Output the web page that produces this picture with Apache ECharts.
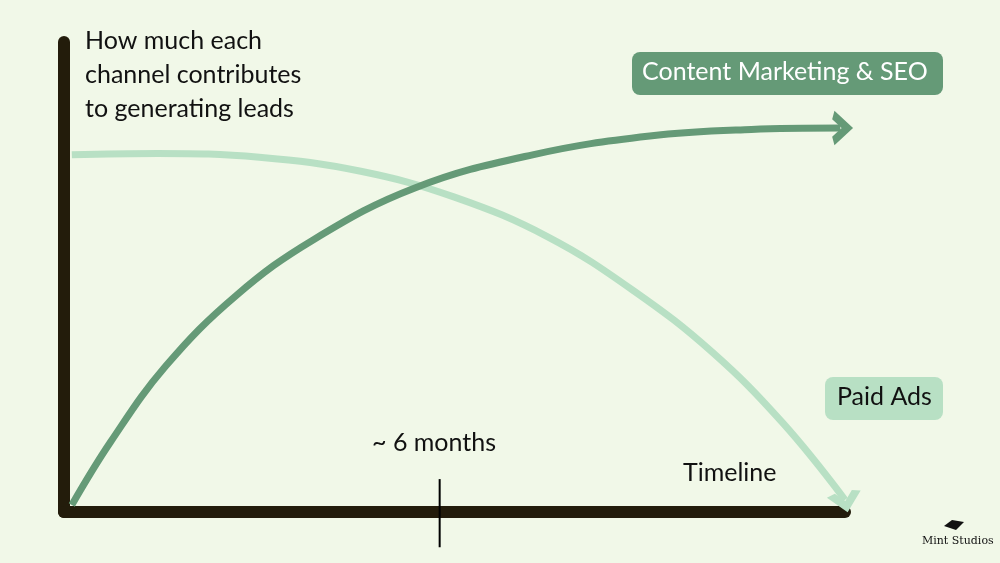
<!DOCTYPE html><html><head><meta charset="utf-8">
<script src="https://cdn.jsdelivr.net/npm/echarts@6/dist/echarts.min.js"></script>
<style>html,body{margin:0;background:#f1f8e8}#c{width:1000px;height:563px}</style></head><body><div id="c"></div><script>
const contentX=[1,6,13,22,32,45,60,75,88,99.4];
const contentY=[1.5,15,31,46,58,69,76,80,81.4,81.7];
const paidX=[1,12,25,38,50,62,73,83,92,100];
const paidY=[76,76.3,75.5,72.5,67,58.5,47,34,19,2.6];
const tickX=48.1;
const tickY=[7,-7.5];
const green='#659a77',light='#b8e0c4',dark='#231c0b';
function mk(xs,ys,col,rot){return xs.map((x,i)=>{const p={value:[x,ys[i]]};if(i===xs.length-1){p.symbol='path://M0 0 L10 10 L20 0';p.symbolSize=[26,14];p.symbolRotate=rot;p.itemStyle={color:'none',borderColor:col,borderWidth:7}}return p;});}
const ch=echarts.init(document.getElementById('c'));
ch.setOption({backgroundColor:'#f1f8e8',animation:false,
grid:{left:64,right:155,top:42,bottom:51},
xAxis:{type:'value',min:0,max:100,axisLine:{show:true,lineStyle:{color:dark,width:12}},axisTick:{show:false},axisLabel:{show:false},splitLine:{show:false}},
yAxis:{type:'value',min:0,max:100,axisLine:{show:true,onZero:false,lineStyle:{color:dark,width:12}},axisTick:{show:false},axisLabel:{show:false},splitLine:{show:false}},
series:[
{type:'line',smooth:0.4,data:mk(paidX,paidY,light,12),symbol:'none',lineStyle:{color:light,width:7},z:2},
{type:'line',smooth:0.4,data:mk(contentX,contentY,green,90),symbol:'none',lineStyle:{color:green,width:7},z:3},
{type:'line',clip:false,symbol:'none',data:tickY.map(y=>[tickX,y]),lineStyle:{color:'#000',width:2},z:4}
],
graphic:[
{type:'text',x:85,y:24,style:{text:'How much each\nchannel contributes\nto generating leads',font:'25px Lato',lineHeight:34,fill:'#111'}},
{type:'rect',x:632,y:52,shape:{width:311,height:43,r:8},style:{fill:green}},
{type:'text',x:642,y:59,style:{text:'Content Marketing & SEO',font:'25px Lato',fill:'#fff'}},
{type:'rect',x:825,y:377,shape:{width:118,height:43,r:8},style:{fill:light}},
{type:'text',x:837,y:384,style:{text:'Paid Ads',font:'25px Lato',fill:'#111'}},
{type:'text',x:372,y:430,style:{text:'~ 6 months',font:'25px Lato',fill:'#111'}},
{type:'text',x:683,y:460,style:{text:'Timeline',font:'25px Lato',fill:'#111'}},
{type:'text',x:922,y:536,style:{text:'Mint Studios',font:'11px "DejaVu Serif"',fill:'#111'}},
{type:'polygon',shape:{points:[[944,526],[952,520],[964,522],[956,530]]},style:{fill:'#111'}}
]});
</script></body></html>
